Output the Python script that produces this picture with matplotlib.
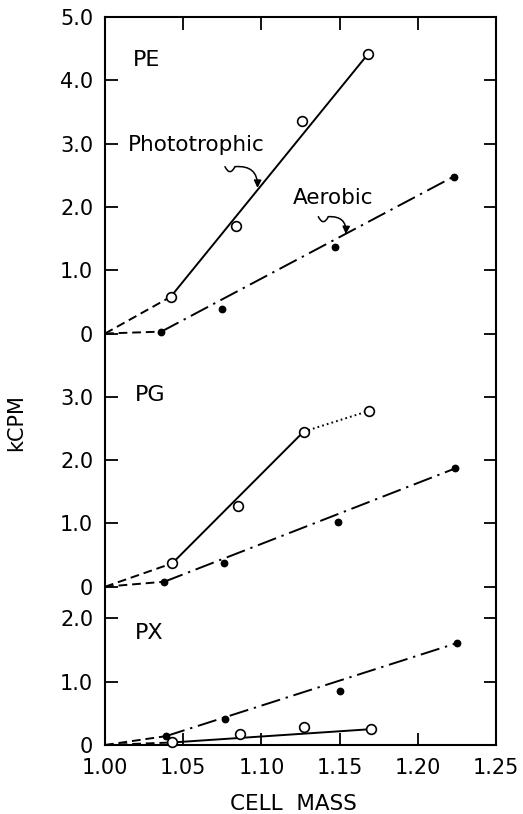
import numpy as np
import matplotlib
matplotlib.use("Agg")
import matplotlib.pyplot as plt

# ---------------- data ----------------
origin_mass = 1.00
origin_kcpm = 0.0

pe_photo_mass = [1.042, 1.084, 1.126, 1.168]
pe_photo_kcpm = [0.58, 1.70, 3.35, 4.41]
pe_aero_mass = [1.036, 1.075, 1.147, 1.223]
pe_aero_kcpm = [0.03, 0.38, 1.36, 2.48]

pg_photo_mass = [1.043, 1.085, 1.127, 1.169]
pg_photo_kcpm = [0.37, 1.28, 2.45, 2.78]
pg_aero_mass = [1.038, 1.076, 1.149, 1.224]
pg_aero_kcpm = [0.08, 0.37, 1.03, 1.87]

px_photo_mass = [1.043, 1.086, 1.127, 1.170]
px_photo_kcpm = [0.04, 0.18, 0.29, 0.25]
px_aero_mass = [1.039, 1.077, 1.150, 1.225]
px_aero_kcpm = [0.14, 0.41, 0.85, 1.61]

panel_names = ["PE", "PG", "PX"]
panel_offsets = [6.5, 2.5, 0.0]
panel_ticks = [[0, 1, 2, 3, 4, 5], [0, 1, 2, 3], [0, 1, 2]]
x_ticks = [1.00, 1.05, 1.10, 1.15, 1.20, 1.25]
x_tick_labels = ["1.00", "1.05", "1.10", "1.15", "1.20", "1.25"]

# ---------------- figure ----------------
plt.rcParams["font.family"] = ["DejaVu Sans"]
fig = plt.figure(figsize=(5.23, 8.14), dpi=100)
ax = fig.add_axes([105 / 523, 1 - 745 / 814, 391 / 523, 728 / 814])
ax.set_xlim(1.00, 1.25)
ax.set_ylim(0, 11.5)

LW = 1.4
dashdot = (0, (10, 3, 1.2, 3))
dashed = (0, (4.5, 2.5))
dotted = (0, (0.9, 1.6))

panels = [
    (pe_photo_mass, pe_photo_kcpm, pe_aero_mass, pe_aero_kcpm, 4),
    (pg_photo_mass, pg_photo_kcpm, pg_aero_mass, pg_aero_kcpm, 3),
    (px_photo_mass, px_photo_kcpm, px_aero_mass, px_aero_kcpm, 4),
]

for (pm, pk, am, ak, nsolid), off in zip(panels, panel_offsets):
    pk = np.asarray(pk) + off
    ak = np.asarray(ak) + off
    oy = origin_kcpm + off
    # dashed extrapolations to origin
    ax.plot([origin_mass, pm[0]], [oy, pk[0]], color="k", lw=LW, ls=dashed,
            clip_on=False, zorder=2)
    ax.plot([origin_mass, am[0]], [oy, ak[0]], color="k", lw=LW, ls=dashed,
            clip_on=False, zorder=2)
    # phototrophic solid line
    ax.plot([pm[0], pm[nsolid - 1]], [pk[0], pk[nsolid - 1]], color="k",
            lw=LW, ls="-", zorder=2, clip_on=False)
    if nsolid < len(pm):
        ax.plot([pm[nsolid - 1], pm[-1]], [pk[nsolid - 1], pk[-1]], color="k",
                lw=LW, ls=dotted, zorder=2)
    # aerobic dash-dot line
    ax.plot([am[0], am[-1]], [ak[0], ak[-1]], color="k", lw=LW, ls=dashdot,
            zorder=2, clip_on=False)
    # markers
    ax.plot(pm, pk, ls="none", marker="o", ms=7, mfc="white", mec="k",
            mew=1.2, zorder=4, clip_on=False)
    ax.plot(am, ak, ls="none", marker="o", ms=4.6, mfc="k", mec="k",
            zorder=4, clip_on=False)

# ---------------- ticks ----------------
yt, ytl = [], []
for off, ticks in zip(panel_offsets, panel_ticks):
    for t in ticks:
        yt.append(off + t)
        ytl.append("0" if t == 0 else f"{t:.1f}")
ax.set_yticks(yt)
ax.set_yticklabels(ytl)
ax.set_xticks(x_ticks)
ax.set_xticklabels(x_tick_labels)
ax.tick_params(axis="both", direction="in", length=9, width=1.3,
               top=True, right=True, labelsize=15, colors="k")
ax.tick_params(axis="y", pad=8.5)
ax.tick_params(axis="x", pad=9)
for s in ax.spines.values():
    s.set_linewidth(1.5)

# ---------------- panel labels ----------------
label_pos = [(1.018, 4.32), (1.019, 3.03), (1.019, 1.77)]
for name, off, (lx, ly) in zip(panel_names, panel_offsets, label_pos):
    ax.text(lx, ly + off, name, fontsize=16, ha="left", va="center")

# ---------------- annotations ----------------
pe_off = panel_offsets[0]
ax.text(1.0147, 2.98 + pe_off, "Phototrophic", fontsize=15.5, ha="left",
        va="center")
ax.text(1.1202, 2.14 + pe_off, "Aerobic", fontsize=15.5, ha="left",
        va="center")

squiggles = [
    ((1.0767, 9.136), (1.0831, 9.136), (1.0975, 8.80)),
    ((1.1364, 8.346), (1.1428, 8.346), (1.1540, 8.07)),
]
for p0, p1, tip in squiggles:
    ax.annotate("", xy=p1, xytext=p0,
                arrowprops=dict(arrowstyle="-", lw=1.1, color="k",
                                connectionstyle="arc3,rad=1.0",
                                shrinkA=0, shrinkB=0))
    ax.annotate("", xy=tip, xytext=p1,
                arrowprops=dict(arrowstyle="-|>", lw=1.1, color="k",
                                mutation_scale=11,
                                connectionstyle="arc3,rad=-0.55",
                                shrinkA=0, shrinkB=0))

# ---------------- axis titles ----------------
fig.text(16 / 523, 1 - 423 / 814, "kCPM", rotation=90, fontsize=15,
         ha="center", va="center")
fig.text(293 / 523, 1 - 804 / 814, "CELL  MASS", fontsize=15.5,
         ha="center", va="center")

fig.savefig("out.png", dpi=100)
